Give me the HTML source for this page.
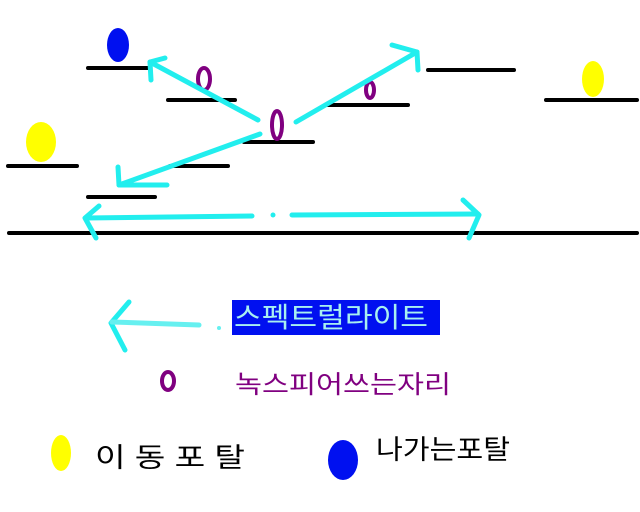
<!DOCTYPE html>
<html><head><meta charset="utf-8"><style>
html,body{margin:0;padding:0;background:#fff;width:640px;height:512px;overflow:hidden}
svg{display:block}
text{font-family:"Liberation Sans","Noto Sans CJK KR","NanumGothic",sans-serif}
</style></head><body>
<svg width="640" height="512" viewBox="0 0 640 512" xmlns="http://www.w3.org/2000/svg">
<g stroke="#000" stroke-width="4" stroke-linecap="round">
<line x1="88" y1="68" x2="150" y2="68"/>
<line x1="168" y1="100" x2="235" y2="100"/>
<line x1="8" y1="166" x2="77" y2="166"/>
<line x1="170" y1="166" x2="228" y2="166"/>
<line x1="88" y1="197" x2="155" y2="197"/>
<line x1="244" y1="142" x2="313" y2="142"/>
<line x1="328" y1="105" x2="408" y2="105"/>
<line x1="428" y1="70" x2="514" y2="70"/>
<line x1="546" y1="100" x2="637" y2="100"/>
<line x1="9" y1="233" x2="637" y2="233"/>
</g>
<ellipse cx="118" cy="45" rx="11" ry="17" fill="#0010f0"/>
<ellipse cx="41" cy="142" rx="15" ry="20" fill="#ffff00"/>
<ellipse cx="593" cy="79" rx="11" ry="18" fill="#ffff00"/>
<g fill="none" stroke="#800080" stroke-width="4">
<ellipse cx="204" cy="79" rx="6" ry="11"/>
<ellipse cx="277" cy="125" rx="5" ry="14"/>
<ellipse cx="370" cy="90" rx="4" ry="8"/>
<ellipse cx="168" cy="381" rx="6" ry="9"/>
</g>
<g stroke="#22eeee" stroke-width="5" fill="none" stroke-linecap="round" stroke-linejoin="round">
<line x1="258" y1="120" x2="150" y2="62"/><polyline points="165,58 150,62 151,80"/>
<line x1="296" y1="122" x2="417" y2="52"/><polyline points="392,45 417,52 418,70"/>
<line x1="260" y1="134" x2="119" y2="185"/><polyline points="118,167 119,185 167,185"/>
<line x1="252" y1="216" x2="86" y2="218"/><polyline points="99,206 85,218 96,238"/>
<line x1="292" y1="215" x2="478" y2="214"/><polyline points="463,200 479,215 469,238"/>
<line x1="273" y1="215" x2="273" y2="215"/>
<polyline points="129,302 111,323 125,350"/>
</g>
<line x1="112" y1="322" x2="199" y2="325" stroke="#66f0f0" stroke-width="5" stroke-linecap="round"/>
<circle cx="219" cy="328" r="2" fill="#66f0f0"/>
<rect x="232" y="300" width="208" height="35" fill="#0010f0"/>
<text x="234" y="327" font-size="28" fill="#a8f0f0" textLength="194" lengthAdjust="spacingAndGlyphs">스펙트럴라이트</text>
<text x="235" y="393" font-size="25" fill="#800080" textLength="216" lengthAdjust="spacingAndGlyphs">녹스피어쓰는자리</text>
<ellipse cx="61" cy="453" rx="10" ry="18" fill="#ffff00"/>
<text x="95" y="467" font-size="27" fill="#000" textLength="150" lengthAdjust="spacingAndGlyphs">이 동 포 탈</text>
<ellipse cx="343" cy="460" rx="15" ry="20" fill="#0010f0"/>
<text x="376" y="459" font-size="27" fill="#000" textLength="134" lengthAdjust="spacingAndGlyphs">나가는포탈</text>
</svg>
</body></html>
